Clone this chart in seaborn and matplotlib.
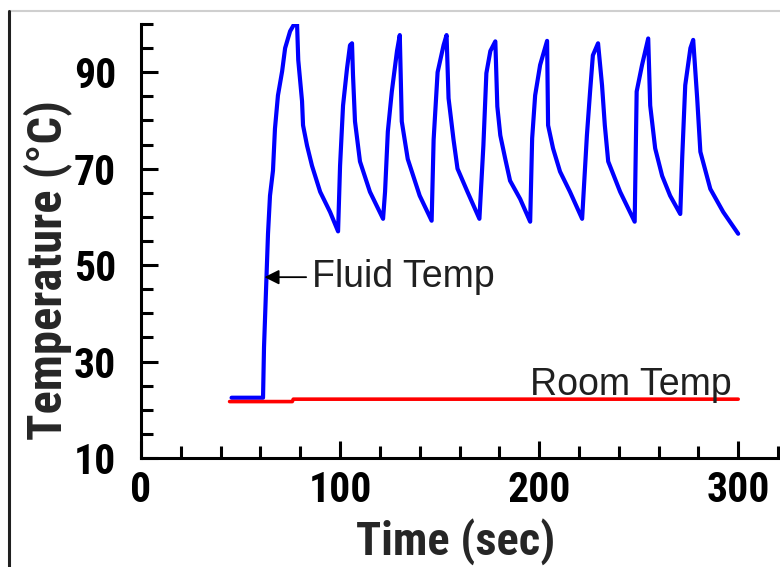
import matplotlib
matplotlib.use("Agg")
import matplotlib.pyplot as plt
from matplotlib import font_manager as fm
from matplotlib.lines import Line2D
from matplotlib.ticker import MultipleLocator, FixedLocator
import seaborn as sns
import pandas as pd

# ---- data ----
fluid_time = [45.5, 61.3, 61.8, 63.8, 64.8, 66.3, 67.3, 68.8, 70.9, 72.4, 74.9, 77.0,
              78.4, 79.0, 80.9, 81.4, 83.4, 85.9, 90.0, 95.0, 99.0, 100.0, 101.5,
              103.5, 105.0, 106.0, 106.5, 107.5, 110.0, 115.0, 121.6, 122.6, 124.0,
              126.0, 128.6, 130.0, 131.0, 134.0, 140.0, 146.0, 147.0, 149.0, 152.0,
              153.5, 154.5, 157.0, 159.0, 164.0, 170.0, 172.0, 173.5, 175.5, 178.0,
              179.0, 180.5, 183.0, 185.4, 190.5, 195.5, 196.5, 198.0, 200.5, 204.0,
              204.5, 207.0, 210.5, 215.5, 221.6, 224.0, 225.6, 227.0, 229.6, 231.6,
              233.0, 234.7, 240.7, 248.0, 249.0, 251.7, 254.8, 255.8, 258.3, 261.8,
              265.8, 270.9, 271.9, 273.4, 276.0, 277.4, 279.4, 281.0, 286.0, 292.5,
              300.0]
fluid_temp = [22.5, 22.5, 33.0, 56.5, 64.4, 69.6, 78.3, 85.2, 90.2, 95.0, 98.5, 100.0,
              100.0, 92.5, 84.0, 79.0, 74.8, 70.6, 65.2, 61.0, 57.0, 70.6, 83.1,
              90.8, 95.6, 96.0, 89.4, 79.8, 71.5, 65.2, 59.6, 65.2, 77.7,
              86.0, 94.4, 97.7, 79.8, 72.0, 64.4, 59.2, 76.0, 90.0, 95.6,
              97.7, 84.6, 76.0, 70.0, 65.2, 59.6, 74.8, 89.8, 94.4, 96.4,
              82.9, 76.9, 72.0, 67.5, 63.7, 59.0, 76.3, 85.2, 91.5, 96.5,
              79.0, 74.2, 69.4, 65.2, 59.6, 76.9, 86.0, 93.5, 96.0, 87.3,
              79.0, 71.5, 65.2, 59.0, 86.0, 91.5, 97.0, 83.1, 74.2, 68.5,
              64.4, 60.6, 72.5, 87.3, 95.0, 96.7, 84.6, 73.5, 65.8, 61.0,
              56.5]
room_time = [44.5, 76.0, 76.5, 300.0]
room_temp = [21.7, 21.7, 22.2, 22.2]

x_major = [0, 100, 200, 300]
y_major = [10, 30, 50, 70, 90]

fluid_df = pd.DataFrame({"Time": fluid_time, "Temp": fluid_temp})
room_df = pd.DataFrame({"Time": room_time, "Temp": room_temp})

# pick a narrow sans font with a bold face (reference uses an Arial-Narrow-like face)
_bold = {f.name for f in fm.fontManager.ttflist
         if (f.weight == 700 or f.weight == "bold") and not f.fname.endswith("].ttf")}
narrow = "Liberation Sans"
for cand in ["Liberation Sans Narrow", "Arial Narrow", "Roboto Condensed",
             "Fira Sans Condensed", "Barlow Semi Condensed"]:
    if cand in _bold:
        narrow = cand
        break

sns.set_style("ticks")
plt.rcParams["font.family"] = [narrow, "Liberation Sans", "DejaVu Sans"]

W, H = 780, 567
fig = plt.figure(figsize=(W / 100, H / 100), dpi=100)
ax = fig.add_axes([141 / W, 1 - 458 / H, (778 - 141) / W, (458 - 24) / H])

sns.lineplot(data=fluid_df, x="Time", y="Temp", ax=ax, color="#0000ff",
             linewidth=3.0, sort=False, estimator=None)
sns.lineplot(data=room_df, x="Time", y="Temp", ax=ax, color="#ff0000",
             linewidth=2.6, sort=False, estimator=None)

ax.set_xlim(0, 320)
ax.set_ylim(10, 100)
sns.despine(ax=ax, top=True, right=True)
for s in ("left", "bottom"):
    ax.spines[s].set_linewidth(2.2)
    ax.spines[s].set_color("black")

ax.xaxis.set_major_locator(FixedLocator(x_major))
ax.xaxis.set_minor_locator(MultipleLocator(20))
ax.yaxis.set_major_locator(FixedLocator(y_major))
ax.yaxis.set_minor_locator(MultipleLocator(5))
ax.set_xticklabels([str(v) for v in x_major])
ax.set_yticklabels([str(v) for v in y_major])

ax.tick_params(axis="both", which="both", bottom=True, left=True, top=False, right=False)
ax.tick_params(axis="both", which="major", direction="in", length=12.5, width=2.2,
               color="black", labelsize=30, labelcolor="black")
ax.tick_params(axis="both", which="minor", direction="in", length=8.5, width=2.2,
               color="black")
ax.tick_params(axis="y", which="major", pad=18)
ax.tick_params(axis="x", which="major", pad=9)
for lab in ax.get_xticklabels() + ax.get_yticklabels():
    lab.set_fontweight("bold")

ax.set_xlabel("Time (sec)", fontsize=33.5, fontweight="bold", va="top")
ax.set_ylabel("Temperature (°C)", fontsize=35, fontweight="bold")
ax.xaxis.set_label_coords((456 - 141) / 637, (458 - 518) / 434)
ax.yaxis.set_label_coords((72 - 141) / 637, (458 - 270) / 434)

ax.annotate("Fluid Temp", xy=(62.0, 47.5), xytext=(86.0, 47.5),
            fontsize=27, family=["Liberation Sans", "DejaVu Sans"], color="#202020",
            va="center", ha="left",
            arrowprops=dict(arrowstyle="-|>", color="black", lw=1.3,
                            mutation_scale=22, shrinkA=2, shrinkB=0))
ax.text(297, 23.1, "Room Temp", fontsize=27, family=["Liberation Sans", "DejaVu Sans"],
        color="#202020", ha="right", va="baseline")

# screenshot frame lines
fig.add_artist(Line2D([8.5 / W, 1.0], [1 - 11 / H, 1 - 11 / H], transform=fig.transFigure,
                      color="#cfcfcf", lw=1.5))
fig.add_artist(Line2D([8.5 / W, 8.5 / W], [0.0, 1 - 11 / H], transform=fig.transFigure,
                      color="#202020", lw=2.2))

fig.savefig("out.png", dpi=100)
